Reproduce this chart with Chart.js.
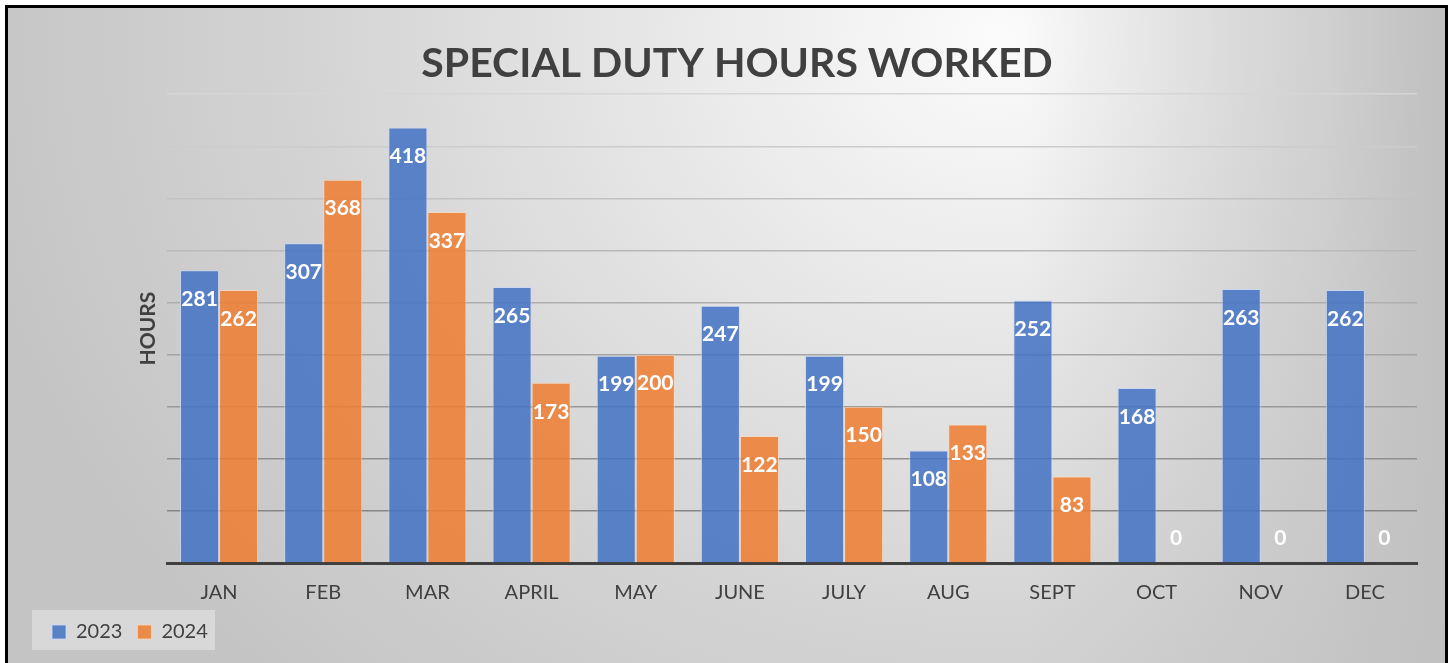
<!DOCTYPE html>
<html>
<head>
<meta charset="utf-8">
<script src="https://cdn.jsdelivr.net/npm/chart.js@4.4.1/dist/chart.umd.min.js"></script>
<style>
  html, body { margin: 0; padding: 0; width: 1451px; height: 663px; overflow: hidden; background: #ffffff; }
  #frame {
    position: absolute; left: 5px; top: 5px; width: 1437px; height: 680px;
    border: 3px solid #000;
    background:
      linear-gradient(to left, rgba(192,192,192,1) 0px, rgba(192,192,192,0.6) 120px, rgba(192,192,192,0) 420px),
      radial-gradient(ellipse 1050px 900px at 990px 30px, #fbfbfb 0%, #e6e6e6 35%, #d4d4d4 65%, #c4c4c4 100%);
  }
  #chart { position: absolute; left: 0; top: 0; }
</style>
</head>
<body>
<div id="frame"></div>
<canvas id="chart" width="1451" height="663"></canvas>
<script>
// ---- data ----
const categories = ['JAN', 'FEB', 'MAR', 'APRIL', 'MAY', 'JUNE', 'JULY', 'AUG', 'SEPT', 'OCT', 'NOV', 'DEC'];
const seriesNames = ['2023', '2024'];
const hours2023 = [281, 307, 418, 265, 199, 247, 199, 108, 252, 168, 263, 262];
const hours2024 = [262, 368, 337, 173, 200, 122, 150, 133, 83, 0, 0, 0];
const yMin = 0;
const yMax = 450;
const yStep = 50;
const chartTitle = 'SPECIAL DUTY HOURS WORKED';
const yAxisTitle = 'HOURS';

const FONT = 'Lato, "Open Sans", "DejaVu Sans", sans-serif';
const TEXT = '#404040';

function gridColor(ctx) {
  const v = ctx.tick ? ctx.tick.value : 0;
  if (v <= 0) return 'rgba(0,0,0,0)';
  const t = (v - yStep) / (yMax - yStep); // 0 bottom .. 1 top
  const c = Math.round(0x86 + t * (0xd6 - 0x86));
  return 'rgb(' + c + ',' + c + ',' + c + ')';
}

const legendBackground = {
  id: 'legendBackground',
  afterLayout(chart) {
    const lg = chart.legend;
    if (lg) {
      const shift = -20;
      lg.left += shift; lg.right += shift;
      if (lg.adjustHitBoxes) lg.adjustHitBoxes();
    }
  },
  beforeDraw(chart) {
    const ctx = chart.ctx;
    ctx.save();
    ctx.fillStyle = 'rgba(255,255,255,0.35)';
    ctx.fillRect(32, 610, 183, 40);
    ctx.restore();
  }
};

const valueLabels = {
  id: 'valueLabels',
  afterDatasetsDraw(chart) {
    const ctx = chart.ctx;
    ctx.save();
    ctx.font = 'bold 21px ' + FONT;
    ctx.fillStyle = '#ffffff';
    ctx.textAlign = 'center';
    ctx.textBaseline = 'middle';
    chart.data.datasets.forEach((ds, di) => {
      const meta = chart.getDatasetMeta(di);
      meta.data.forEach((el, i) => {
        const v = ds.data[i];
        const y = v === 0 ? el.base - 25 : el.y + 29;
        ctx.fillText(String(v), el.x, y);
      });
    });
    ctx.restore();
  }
};

new Chart(document.getElementById('chart'), {
  type: 'bar',
  data: {
    labels: categories,
    datasets: [
      {
        label: seriesNames[0],
        data: hours2023,
        backgroundColor: 'rgba(68,114,196,0.86)',
        borderColor: 'rgba(200,215,245,0.8)',
        borderWidth: 1
      },
      {
        label: seriesNames[1],
        data: hours2024,
        backgroundColor: 'rgba(237,125,49,0.86)',
        borderColor: 'rgba(250,215,190,0.8)',
        borderWidth: 1
      }
    ]
  },
  options: {
    responsive: false,
    animation: false,
    devicePixelRatio: 1,
    datasets: { bar: { categoryPercentage: 0.75, barPercentage: 1.0 } },
    layout: { padding: { left: 57, right: 34, top: 20, bottom: 11 } },
    scales: {
      x: {
        grid: { display: false, drawTicks: false },
        border: { display: true, color: '#404040', width: 3 },
        ticks: { color: TEXT, font: { family: FONT, size: 20 }, padding: 18 },
        afterFit(s) { s.height = 44; }
      },
      y: {
        min: yMin, max: yMax,
        grid: { color: gridColor, lineWidth: 1.5, drawTicks: false },
        border: { display: false },
        ticks: { stepSize: yStep, display: false },
        title: {
          display: true, text: yAxisTitle, color: TEXT,
          font: { family: FONT, size: 21, weight: 'bold' },
          padding: { top: 79, bottom: 0 }
        },
        afterFit(s) { s.width = 110; }
      }
    },
    plugins: {
      title: {
        display: true, text: chartTitle, color: TEXT,
        font: { family: FONT, size: 41, weight: 'bold' },
        padding: { top: 19, bottom: 6 }
      },
      legend: {
        position: 'bottom', align: 'start',
        labels: { boxWidth: 14, boxHeight: 14, color: TEXT, font: { family: FONT, size: 20 }, padding: 15 }
      },
      tooltip: { enabled: false }
    }
  },
  plugins: [legendBackground, valueLabels]
});
</script>
</body>
</html>
